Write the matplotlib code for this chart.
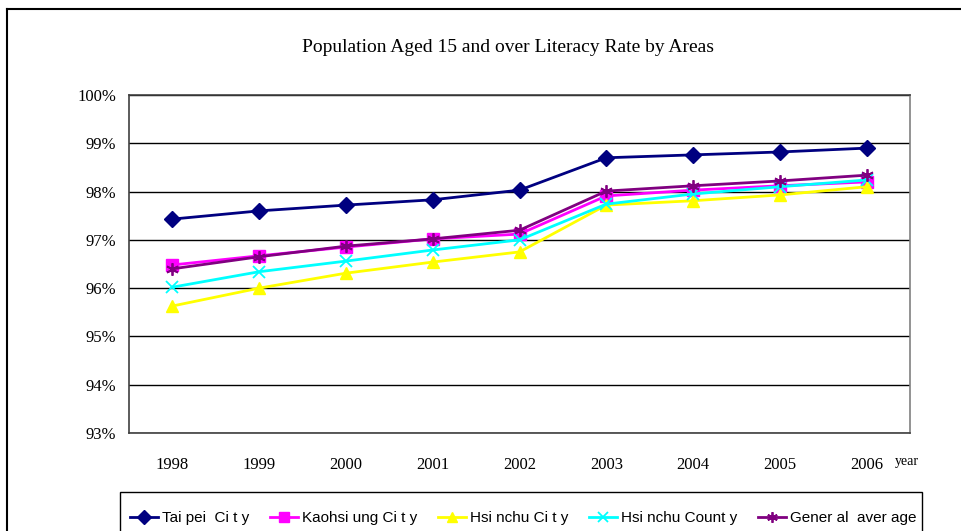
import numpy as np
import matplotlib
matplotlib.use("Agg")
import matplotlib.pyplot as plt
from matplotlib.lines import Line2D
from matplotlib.patches import Rectangle

years = ['1998', '1999', '2000', '2001', '2002', '2003', '2004', '2005', '2006']
taipei = [97.43, 97.60, 97.72, 97.83, 98.03, 98.70, 98.76, 98.82, 98.90]
kaohsiung = [96.48, 96.67, 96.85, 97.02, 97.12, 97.91, 98.03, 98.12, 98.20]
hsinchu_city = [95.63, 96.00, 96.31, 96.54, 96.75, 97.72, 97.81, 97.93, 98.10]
hsinchu_county = [96.02, 96.34, 96.56, 96.79, 97.00, 97.74, 97.95, 98.10, 98.24]
general_avg = [96.40, 96.65, 96.87, 97.02, 97.20, 98.01, 98.12, 98.22, 98.34]

labels = ['Tai pei  Ci t y', 'Kaohsi ung Ci t y', 'Hsi nchu Ci t y', 'Hsi nchu Count y', 'Gener al  aver age']

serif = ['Liberation Serif', 'DejaVu Serif']
sans = ['Liberation Sans Narrow', 'Liberation Sans', 'DejaVu Sans']

W, H = 961, 531
fig = plt.figure(figsize=(W / 100, H / 100), dpi=100)
ax = fig.add_axes([129/W, 1 - 433/H, (910-129)/W, (433-95)/H])

x = np.arange(len(years))
series = [
    (taipei, '#000080', 'D', 8),
    (kaohsiung, '#FF00FF', 's', 8),
    (hsinchu_city, '#FFFF00', '^', 9),
    (hsinchu_county, '#00FFFF', 'x', 8),
    (general_avg, '#800080', (6, 2, 0), 9),
]
handles = []
for (vals, col, mk, ms), lab in zip(series, labels):
    h, = ax.plot(x, vals, color=col, marker=mk, markersize=ms, linewidth=2,
                 markeredgewidth=1.3 if mk in ('x', (6, 2, 0)) else 1,
                 markerfacecolor=col, markeredgecolor=col, label=lab)
    handles.append(h)

ax.set_xlim(-0.5, len(years) - 0.5)
ax.set_ylim(93, 100)
ax.set_yticks(np.arange(93, 101, 1))
ax.set_yticklabels(['%d%%' % v for v in range(93, 101)], family=serif, fontsize=12)
ax.set_xticks(x)
ax.set_xticklabels(years, family=serif, fontsize=12)
ax.tick_params(axis='y', length=0, pad=9)
ax.tick_params(axis='x', length=0, pad=17)
ax.grid(axis='y', color='black', linewidth=1)
ax.set_axisbelow(True)
for s in ax.spines.values():
    s.set_color('#404040')
    s.set_linewidth(1.2)
ax.spines['right'].set_color('#808080')

fig.text(895/W, 1 - 462/H, 'year', family=serif, fontsize=10, ha='left', va='center')
fig.text(508/W, 1 - 47/H, 'Population Aged 15 and over Literacy Rate by Areas',
         family=serif, fontsize=14, ha='center', va='center')

# outer chart border (right and bottom edges fall outside the picture)
fig.add_artist(Line2D([7/W, 1], [1 - 9/H, 1 - 9/H], color='black', linewidth=1.5))
fig.add_artist(Line2D([7/W, 7/W], [0, 1 - 9/H], color='black', linewidth=1.5))

# legend box
fig.add_artist(Rectangle((120/W, -0.05), (922-120)/W, 1 - 492/H + 0.05,
                         transform=fig.transFigure, facecolor='white',
                         edgecolor='black', linewidth=1))
leg = fig.legend(handles=handles, ncol=5, loc='center left',
                 bbox_to_anchor=(130/W, 1 - 518/H), prop={'family': sans, 'size': 11},
                 frameon=False, borderpad=0, borderaxespad=0,
                 handlelength=1.85, handletextpad=0.25, columnspacing=1.35,
                 markerscale=0.85)
leg.set_zorder(5)

fig.savefig('out.png', dpi=100)
